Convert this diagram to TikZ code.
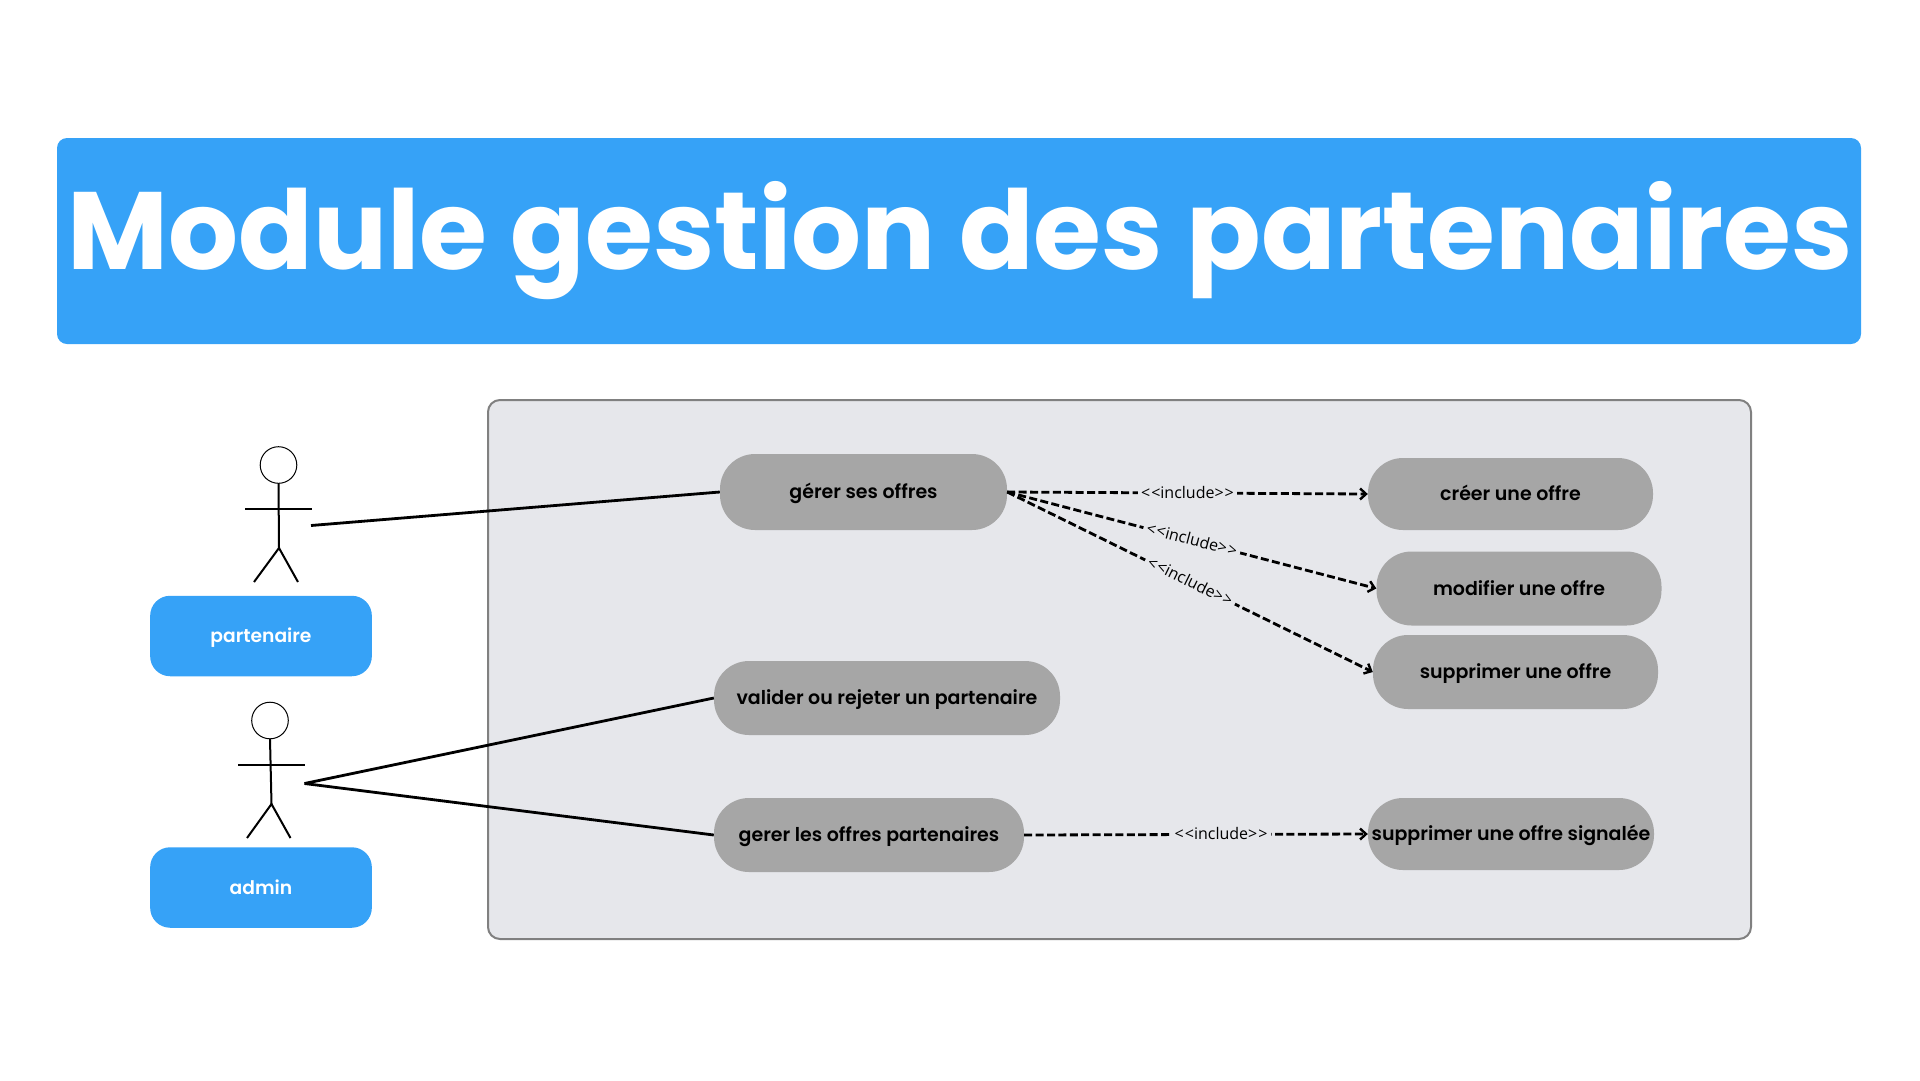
\documentclass[tikz,border=0pt]{standalone}
\usepackage{fontspec}
\usetikzlibrary{arrows.meta,positioning}
\setmainfont{Poppins}
\newfontfamily\labelfont{Open Sans}
\newfontfamily\semifont{Poppins SemiBold}
\newcommand{\includetext}{<\kern1pt<include>\kern1pt>}
\definecolor{titleblue}{HTML}{36A2F7}
\definecolor{panelgrey}{HTML}{E6E7EB}
\definecolor{panelline}{HTML}{808080}
\definecolor{usecasegrey}{HTML}{A6A6A6}

\begin{document}
\begin{tikzpicture}[
  x=1pt, y=-1pt,
  line/.style={draw=black, line width=2.8pt},
  limb/.style={draw=black, line width=2pt},
  include/.style={line, dash pattern=on 8pt off 3.4pt, -{Straight Barb[length=6pt,width=11pt,line width=2.4pt]}},
  includelabel/.style={fill=panelgrey, inner sep=3.5pt, yshift=1pt, font=\labelfont\fontsize{16}{18}\selectfont},
  head/.style={draw=black, line width=1pt, circle, minimum size=36.6pt, inner sep=0pt, outer sep=0pt},
  role/.style={fill=titleblue, text=white, rounded corners=20pt, minimum width=221.7pt, minimum height=80.5pt, inner sep=0pt, text height=16pt, text depth=3pt, font=\semifont\fontsize{18.7}{24}\selectfont},
  usecase/.style={fill=usecasegrey, text=black, rounded corners=35pt, minimum width=285pt, minimum height=72pt, inner sep=0pt, text height=16pt, text depth=3pt, font=\semifont\fontsize{19}{24}\selectfont}
]
\useasboundingbox (0,0) rectangle (1920,1080);

\node[fill=titleblue, rounded corners=10pt, minimum width=1804pt, minimum height=206pt, inner sep=0pt] (banner) at (959,241) {};
\node[text=white, anchor=base, inner sep=0pt, font=\fontsize{110}{130}\selectfont\bfseries] (bannertext) at (960,269) {Module gestion des partenaires};

\node[draw=panelline, fill=panelgrey, line width=2pt, rounded corners=12pt, minimum width=1263pt, minimum height=539pt, inner sep=0pt] (panel) at (1119.5,669.5) {};

% actors
\node[head] (partenairehead) at (278.5,465) {};
\coordinate (partenairehip) at (279,548);
\coordinate (partenaireleft) at (245,509);
\coordinate (partenaireright) at (312,509);
\coordinate (partenairefootl) at (254,582);
\coordinate (partenairefootr) at (298,582);
\coordinate (partenairelink) at (311,525.5);
\draw[limb] (partenairehead.south) -- (partenairehip);
\draw[limb] (partenaireleft) -- (partenaireright);
\draw[limb] (partenairefootl) -- (partenairehip) -- (partenairefootr);

\node[head] (adminhead) at (270,720.5) {};
\coordinate (adminhip) at (271.5,804);
\coordinate (adminleft) at (238,764.5);
\coordinate (adminright) at (304.5,764.5);
\coordinate (adminfootl) at (247,838);
\coordinate (adminfootr) at (290.5,838);
\coordinate (adminlink) at (304.5,783.5);
\draw[limb] (adminhead.south) -- (adminhip);
\draw[limb] (adminleft) -- (adminright);
\draw[limb] (adminfootl) -- (adminhip) -- (adminfootr);

\node[role] (partenaire) at (261,636) {partenaire};
\node[role] (admin) at (261,887.5) {admin};

% use cases
\node[usecase, minimum width=287pt, minimum height=76pt] (gerer) at (863.5,492) {gérer ses offres};
\node[usecase, minimum height=72pt] (creer) at (1510.5,494) {créer une offre};
\node[usecase, minimum height=74pt] (modifier) at (1519,588.5) {modifier une offre};
\node[usecase, minimum height=74pt] (supprimer) at (1515.5,672) {supprimer une offre};
\node[usecase, minimum width=346pt, minimum height=74pt] (valider) at (887,698) {valider ou rejeter un partenaire};
\node[usecase, minimum width=310pt, minimum height=74pt] (gererpart) at (869,835) {gerer les offres partenaires};
\node[usecase, minimum width=286pt] (signalee) at (1511,834) {supprimer une offre signalée};

\draw[line] (partenairelink) -- (gerer.west);
\draw[line] (adminlink) -- (valider.west);
\draw[line] (adminlink) -- (gererpart.west);

\draw[include] (gerer.east) -- node[includelabel] (lcreer) {\includetext} (creer.west);
\draw[include] (gerer.east) -- node[includelabel, sloped] (lmodifier) {\includetext} (modifier.west);
\draw[include] (gerer.east) -- node[includelabel, sloped] (lsupprimer) {\includetext} (supprimer.west);
\draw[include] (gererpart.east) -- node[includelabel, pos=0.573] (lsignalee) {\includetext} (signalee.west);

\end{tikzpicture}
\end{document}
